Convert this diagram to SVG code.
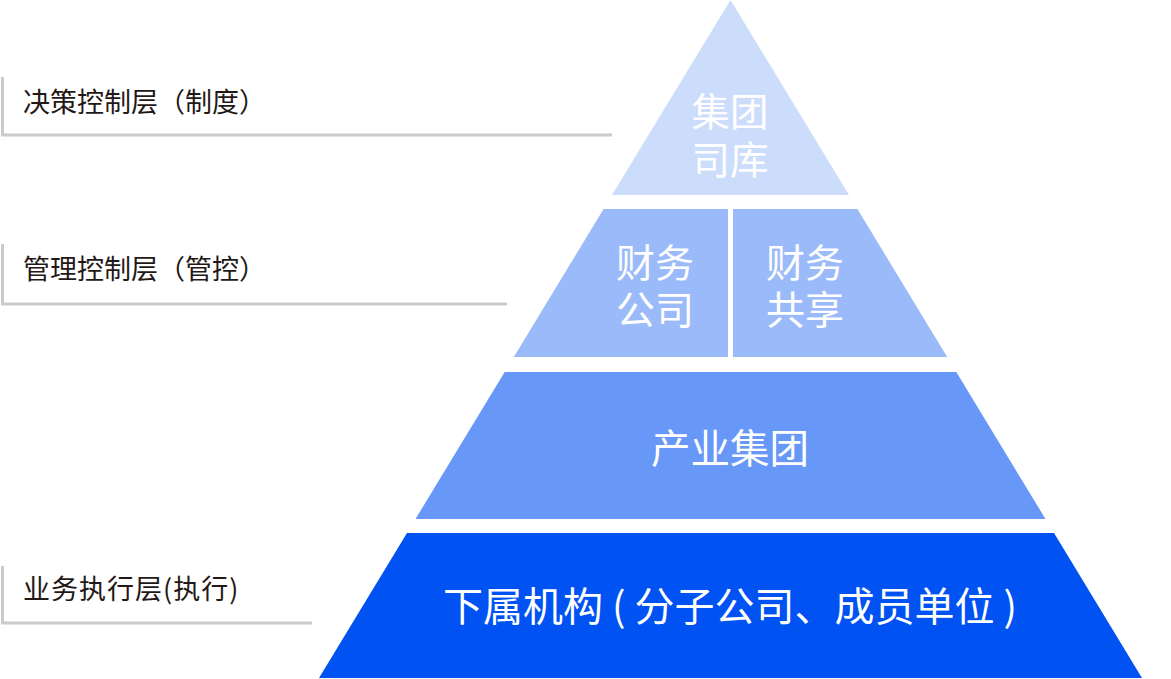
<svg xmlns="http://www.w3.org/2000/svg" width="1171" height="679" viewBox="0 0 1171 679">
<style>
.lbl{font-family:"Noto Sans CJK SC","Noto Sans",sans-serif;font-size:27px;fill:#231815}
.t{font-family:"Noto Sans CJK SC","Noto Sans",sans-serif;fill:#ffffff;text-anchor:middle}
.guide{fill:none;stroke:#cacbcb;stroke-width:3}
</style>
<rect width="1171" height="679" fill="#ffffff"/>
<g id="connectors">
<polyline class="guide" points="2.5,77 2.5,135 612,135"/>
<polyline class="guide" points="2.5,244 2.5,304 507,304"/>
<polyline class="guide" points="2.5,566 2.5,623 312,623"/>
</g>
<g id="label-decision"><text class="lbl" x="23" y="112">决策控制层（制度）</text></g>
<g id="label-management"><text class="lbl" x="23" y="279">管理控制层（管控）</text></g>
<g id="label-execution"><text class="lbl" x="23" y="599" font-size="28" letter-spacing="1">业务执行层(执行)</text></g>
<g id="tier-top">
<polygon points="730.5,0 849,195 612,195" fill="#ccdcfb"/>
<text class="t" x="730" y="126" font-size="38.5">集团</text>
<text class="t" x="730" y="174" font-size="38.5">司库</text>
</g>
<g id="tier-finance-company">
<polygon points="603.6,209 728,209 728,357 513.8,357" fill="#9bbaf9"/>
<text class="t" x="655" y="277" font-size="39">财务</text>
<text class="t" x="655" y="324" font-size="39">公司</text>
</g>
<g id="tier-finance-shared">
<polygon points="733,209 857.4,209 947.2,357 733,357" fill="#9bbaf9"/>
<text class="t" x="805" y="277" font-size="39">财务</text>
<text class="t" x="805" y="324" font-size="39">共享</text>
</g>
<g id="tier-industry">
<polygon points="504.7,372 956.3,372 1045.5,519 415.5,519" fill="#6797f7"/>
<text class="t" x="730" y="463" font-size="39.5">产业集团</text>
</g>
<g id="tier-subsidiaries">
<polygon points="407,533 1054,533 1142,678 319,678" fill="#0052f2"/>
<text class="t" x="730" y="621" font-size="40">下属机构 ( 分子公司、成员单位 )</text>
</g>
</svg>
